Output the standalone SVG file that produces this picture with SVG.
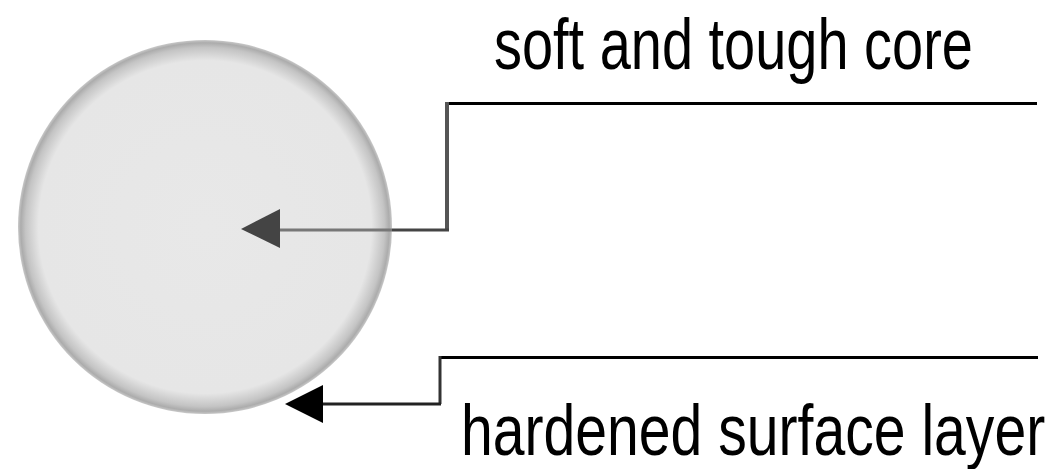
<svg xmlns="http://www.w3.org/2000/svg" width="1051" height="469" viewBox="0 0 1051 469">
<defs>
<radialGradient id="ball" cx="0.5" cy="0.5" r="0.5">
<stop offset="0" stop-color="#e8e8e8"/>
<stop offset="0.89" stop-color="#e6e6e6"/>
<stop offset="0.96" stop-color="#c4c4c4"/>
<stop offset="0.985" stop-color="#acacac"/>
<stop offset="1" stop-color="#c8c8c8"/>
</radialGradient>
</defs>
<style>
.lbl{font-family:"Liberation Sans","DejaVu Sans",sans-serif;font-size:72px;fill:#000;}
.ln{fill:none;stroke-linecap:butt;stroke-linejoin:miter;}
</style>
<rect width="1051" height="469" fill="#fff"/>
<g id="sphere">
<circle cx="205" cy="227" r="187" fill="url(#ball)"/>
</g>
<g id="connectors">
<path class="ln" d="M1037,103.5 H447" stroke="#000" stroke-width="3"/>
<path class="ln" d="M447,102 V230" stroke="#555" stroke-width="4"/>
<path class="ln" d="M449,230 H392" stroke="#444" stroke-width="3"/>
<path class="ln" d="M392,230 H278" stroke="#777" stroke-width="3"/>
<polygon points="241,229 280,209 280,248" fill="#444"/>
<path class="ln" d="M1038,357.5 H440" stroke="#000" stroke-width="3"/>
<path class="ln" d="M440,356 V404" stroke="#333" stroke-width="3"/>
<path class="ln" d="M441,404 H320" stroke="#222" stroke-width="3"/>
<polygon points="285,404 323,385 323,423" fill="#000"/>
</g>
<g id="label-core" transform="translate(494,69) scale(0.78,1)">
<text class="lbl" x="0" y="0" textLength="614" lengthAdjust="spacingAndGlyphs">soft and tough core</text>
</g>
<g id="label-surface" transform="translate(461,455) scale(0.78,1)">
<text class="lbl" x="0" y="0" textLength="749" lengthAdjust="spacingAndGlyphs">hardened surface layer</text>
</g>
</svg>
